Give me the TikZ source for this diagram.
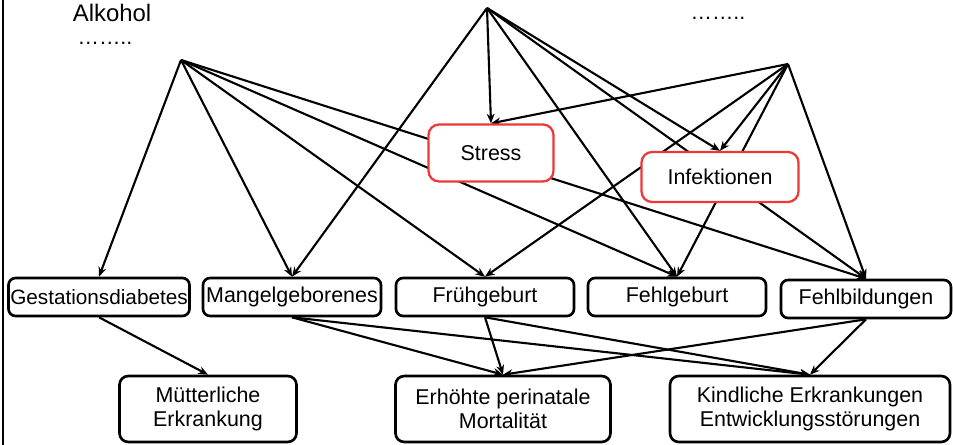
\documentclass[tikz,border=0pt]{standalone}
\usepackage{fontspec}
\setmainfont{Liberation Sans}
\usepackage{xcolor}
\usepackage{tikz}
\usetikzlibrary{arrows.meta,backgrounds}

\definecolor{boxred}{RGB}{238,56,56}

\begin{document}
\begin{tikzpicture}[
  x=0.02cm, y=-0.02cm,
  font=\fontsize{12.2}{13.4}\selectfont,
  >={Stealth[length=5.5pt,width=4.5pt]},
  box/.style={
    draw=black, line width=1.5pt, rounded corners=4pt,
    fill=white, align=center, inner sep=1pt,
    minimum height=0.76cm
  },
  small/.style={box, minimum width=3.56cm},
  big/.style={box, minimum height=1.32cm, rounded corners=5pt},
  factor/.style={box, draw=boxred, line width=1.3pt, rounded corners=6pt},
  label/.style={inner sep=0pt},
  arr/.style={->, line width=1.2pt, black}
]
  \useasboundingbox (0,0) rectangle (953,445);
  \draw[line width=1.3pt] (3,0) -- (3,445);

  % risk sources
  \node[label, font=\fontsize{13.6}{15}\selectfont] (alkohol) at (112,13) {Alkohol};
  \node[label] (dotsl) at (105,43) {\ldots\ldots..};
  \node[label] (dotsr) at (718,18) {\ldots\ldots..};
  \coordinate (alk) at (181,60);
  \coordinate (mitte) at (487,8);
  \coordinate (rechts) at (788,64);

  % intermediate factors
  \node[factor, minimum width=2.5cm, minimum height=1.14cm] (stress) at (491,153) {Stress};
  \node[factor, minimum width=3.14cm, minimum height=1cm] (infekt) at (720,177) {Infektionen};

  % outcomes
  \node[small, font=\fontsize{11.8}{13}\selectfont] (gest) at (99,297) {Gestationsdiabetes};
  \node[small] (mangel) at (292,297) {Mangelgeborenes};
  \node[small] (frueh) at (485,297) {Frühgeburt};
  \node[small] (fehlg) at (677,297) {Fehlgeburt};
  \node[box, minimum width=3.4cm] (fehlb) at (866,299) {Fehlbildungen};

  \node[big, minimum width=3.54cm] (muett) at (208,409) {Mütterliche\\Erkrankung};
  \node[big, minimum width=4.3cm] (mort) at (503,409) {Erhöhte perinatale\\Mortalität};
  \node[big, minimum width=5.6cm] (kind) at (810,409) {Kindliche Erkrankungen\\Entwicklungsstörungen};

  \begin{pgfonlayer}{background}
    \foreach \a/\b in {alk/gest, alk/mangel, alk/frueh, alk/fehlg, alk/fehlb,
                       mitte/mangel, mitte/stress, mitte/fehlg, mitte/infekt, mitte/fehlb,
                       rechts/stress, rechts/frueh, rechts/infekt, rechts/fehlg, rechts/fehlb}
      \draw[arr] (\a) -- (\b.north);

    \foreach \a/\b in {gest/muett, mangel/mort, mangel/kind, frueh/mort,
                       frueh/kind, fehlb/mort, fehlb/kind}
      \draw[arr] (\a.south) -- (\b.north);
  \end{pgfonlayer}
\end{tikzpicture}
\end{document}
